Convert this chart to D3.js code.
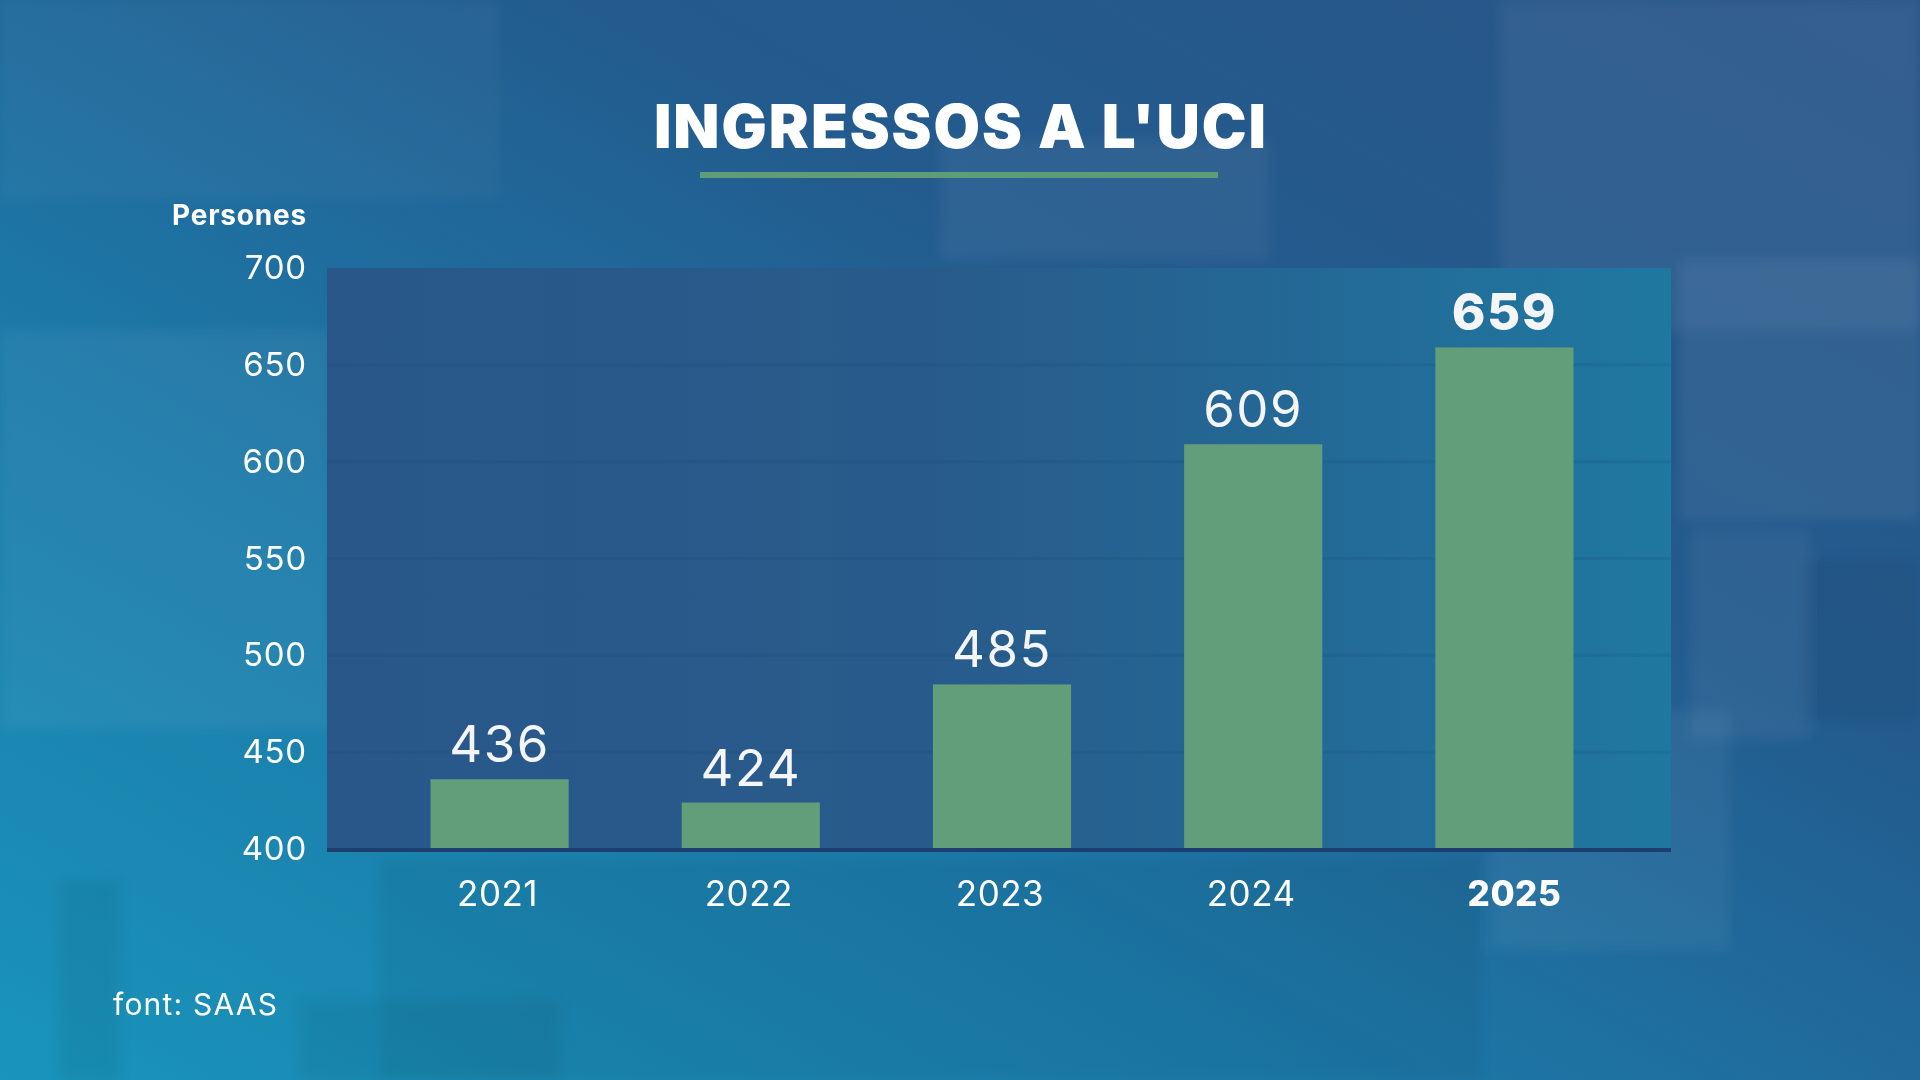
<!DOCTYPE html>
<html>
<head>
<meta charset="utf-8">
<script src="https://cdn.jsdelivr.net/npm/d3@7"></script>
<style>
  html, body { margin: 0; padding: 0; background: #1f6a9c; }
  svg { display: block; font-family: Inter, "Noto Sans", sans-serif; }
</style>
</head>
<body>
<svg id="chart" width="1920" height="1080"></svg>
<script>
// data
var years = ["2021", "2022", "2023", "2024", "2025"];
var admissions = [436, 424, 485, 609, 659];
var yTicks = [400, 450, 500, 550, 600, 650, 700];
var highlightYear = "2025";

var svg = d3.select("#chart"),
    width = +svg.attr("width"),
    height = +svg.attr("height");

var plot = { left: 327, right: 1671, top: 268, bottom: 849 };

var defs = svg.append("defs");

var bgGrad = defs.append("linearGradient")
    .attr("id", "bg").attr("x1", "0").attr("y1", "1").attr("x2", "1").attr("y2", "0");
bgGrad.append("stop").attr("offset", "0%").attr("stop-color", "#1994ba");
bgGrad.append("stop").attr("offset", "35%").attr("stop-color", "#1c79a8");
bgGrad.append("stop").attr("offset", "65%").attr("stop-color", "#235b8e");
bgGrad.append("stop").attr("offset", "100%").attr("stop-color", "#2a5688");

var plotGrad = defs.append("linearGradient")
    .attr("id", "plotbg").attr("x1", "0").attr("y1", "0").attr("x2", "1").attr("y2", "0");
plotGrad.append("stop").attr("offset", "0%").attr("stop-color", "#295789");
plotGrad.append("stop").attr("offset", "45%").attr("stop-color", "#285b8b");
plotGrad.append("stop").attr("offset", "75%").attr("stop-color", "#236a97");
plotGrad.append("stop").attr("offset", "100%").attr("stop-color", "#1f78a0");

defs.append("filter").attr("id", "blur")
    .append("feGaussianBlur").attr("stdDeviation", 6);

// background
svg.append("rect").attr("width", width).attr("height", height).attr("fill", "url(#bg)");

// soft blocks that stand in for the blurred photo behind the chart
var blocks = [
    [0, 0, 500, 200, "#ffffff", 0.03],
    [0, 330, 330, 400, "#ffffff", 0.05],
    [1500, 0, 420, 330, "#ffffff", 0.05],
    [1680, 260, 240, 260, "#ffffff", 0.06],
    [1690, 530, 120, 210, "#ffffff", 0.05],
    [1490, 710, 240, 240, "#ffffff", 0.05],
    [1800, 560, 120, 160, "#000000", 0.05],
    [380, 860, 1100, 220, "#000000", 0.05],
    [60, 880, 60, 200, "#000000", 0.05],
    [300, 1000, 260, 80, "#000000", 0.05],
    [940, 140, 330, 120, "#ffffff", 0.05]
];
svg.append("g").attr("filter", "url(#blur)")
    .selectAll("rect").data(blocks).enter().append("rect")
    .attr("x", function (d) { return d[0]; })
    .attr("y", function (d) { return d[1]; })
    .attr("width", function (d) { return d[2]; })
    .attr("height", function (d) { return d[3]; })
    .attr("fill", function (d) { return d[4]; })
    .attr("opacity", function (d) { return d[5]; });

// title
svg.append("text")
    .attr("x", width / 2 + 1).attr("y", 148)
    .attr("text-anchor", "middle")
    .attr("fill", "#ffffff")
    .attr("font-size", 60).attr("font-weight", 900)
    .attr("letter-spacing", 2)
    .text("INGRESSOS A L'UCI");

svg.append("rect")
    .attr("x", 700).attr("y", 172).attr("width", 518).attr("height", 6)
    .attr("fill", "#5f9c78");

// scales
var x = d3.scaleBand()
    .domain(years)
    .range([374, 1630])
    .paddingInner(0.45)
    .paddingOuter(0.225);

var y = d3.scaleLinear()
    .domain([400, 700])
    .range([plot.bottom, plot.top]);

// plot area
svg.append("rect")
    .attr("x", plot.left).attr("y", plot.top)
    .attr("width", plot.right - plot.left).attr("height", plot.bottom - plot.top)
    .attr("fill", "url(#plotbg)");

svg.append("g").selectAll("line")
    .data(yTicks.slice(1, -1)).enter().append("line")
    .attr("x1", plot.left).attr("x2", plot.right)
    .attr("y1", function (d) { return y(d); })
    .attr("y2", function (d) { return y(d); })
    .attr("stroke", "#16406a").attr("stroke-opacity", 0.14).attr("stroke-width", 3);

// y axis
var yAxis = svg.append("g")
    .attr("transform", "translate(" + (plot.left - 20) + ",0)")
    .call(d3.axisLeft(y).tickValues(yTicks).tickSize(0).tickPadding(0));
yAxis.select(".domain").remove();
yAxis.selectAll("text")
    .attr("fill", "#ffffff")
    .attr("font-size", 33)
    .attr("font-weight", 400)
    .attr("letter-spacing", 0.8)
    .attr("font-family", "Inter, sans-serif");

svg.append("text")
    .attr("x", plot.left - 20).attr("y", 225)
    .attr("text-anchor", "end")
    .attr("fill", "#ffffff")
    .attr("font-size", 28).attr("font-weight", 700)
    .attr("letter-spacing", 0.8)
    .text("Persones");

// bars
var rows = years.map(function (yr, i) { return { year: yr, value: admissions[i] }; });

svg.append("g").selectAll("rect")
    .data(rows).enter().append("rect")
    .attr("x", function (d) { return x(d.year); })
    .attr("y", function (d) { return y(d.value); })
    .attr("width", x.bandwidth())
    .attr("height", function (d) { return y(400) - y(d.value); })
    .attr("fill", "#629e7a");

svg.append("g").selectAll("text")
    .data(rows).enter().append("text")
    .attr("x", function (d) { return x(d.year) + x.bandwidth() / 2; })
    .attr("y", function (d) { return y(d.value) - 17; })
    .attr("text-anchor", "middle")
    .attr("fill", "#f4f5f7")
    .attr("font-size", 51)
    .attr("letter-spacing", 1.5)
    .attr("font-weight", function (d) { return d.year === highlightYear ? 800 : 400; })
    .text(function (d) { return d.value; });

// baseline
svg.append("rect")
    .attr("x", plot.left).attr("y", plot.bottom - 1)
    .attr("width", plot.right - plot.left).attr("height", 4)
    .attr("fill", "#1c3f70");

// x axis labels
var xAxis = svg.append("g")
    .attr("transform", "translate(0," + (plot.bottom + 45) + ")")
    .call(d3.axisBottom(x).tickSize(0).tickPadding(0));
xAxis.select(".domain").remove();
xAxis.selectAll("text")
    .attr("dy", "0.35em")
    .attr("dx", function (d) { return d === highlightYear ? 10 : -2; })
    .attr("fill", "#ffffff")
    .attr("font-size", 35)
    .attr("letter-spacing", 0.5)
    .attr("font-family", "Inter, sans-serif")
    .attr("font-weight", function (d) { return d === highlightYear ? 800 : 400; });

// source
svg.append("text")
    .attr("x", 113).attr("y", 1015)
    .attr("fill", "#ffffff")
    .attr("font-size", 30)
    .attr("letter-spacing", 1.2)
    .text("font: SAAS");
</script>
</body>
</html>
